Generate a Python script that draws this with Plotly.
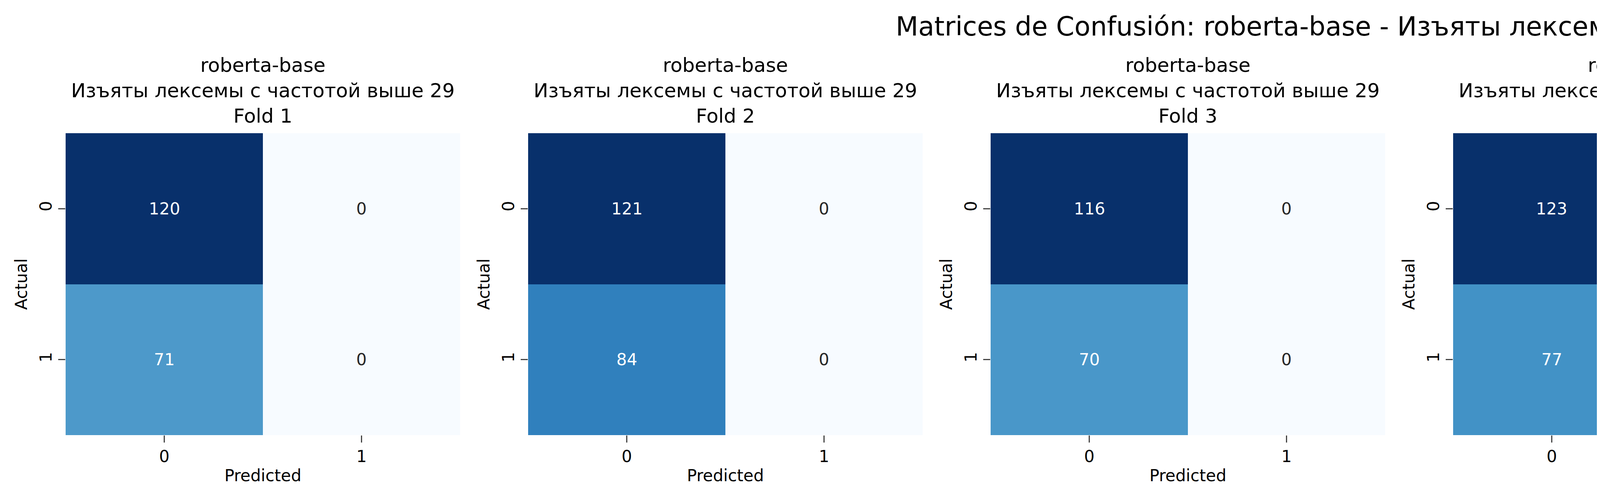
import plotly.graph_objects as go

model = "roberta-base"
subtitle = "Изъяты лексемы с частотой выше 29"
folds = [1, 2, 3, 4, 5, 6]
# матрицы: [[TN, FP], [FN, TP]]
cm_00 = [120, 121, 116, 123, 117, 128]
cm_01 = [0, 0, 0, 0, 0, 0]
cm_10 = [71, 84, 70, 77, 77, 65]
cm_11 = [0, 0, 0, 0, 8, 0]
labels = ["0", "1"]

W, H = 7170, 1275
fig = go.Figure()
step = 1184 / W
x0 = 160 / W
pw = 1010 / W
ybot, ytop = 1 - 1106 / H, 1 - 333 / H

for i, f in enumerate(folds):
    z = [[cm_00[i], cm_01[i]], [cm_10[i], cm_11[i]]]
    zmax = max(max(r) for r in z)
    n = "" if i == 0 else str(i + 1)
    fig.add_trace(go.Heatmap(
        z=z, x=labels, y=labels, colorscale="Blues", zmin=0, zmax=zmax,
        showscale=False, xaxis="x" + n, yaxis="y" + n,
    ))
    d0 = x0 + i * step
    fig.layout["xaxis" + n] = dict(
        domain=[d0, min(d0 + pw, 1)], anchor="y" + n, type="category",
        ticks="outside", ticklen=18, tickwidth=3, showgrid=False,
        tickfont=dict(size=42), title=dict(text="Predicted", font=dict(size=42), standoff=10),
    )
    fig.layout["yaxis" + n] = dict(
        domain=[ybot, ytop], anchor="x" + n, type="category", autorange="reversed",
        ticks="outside", ticklen=18, tickwidth=3, showgrid=False, tickangle=-90,
        tickfont=dict(size=42), title=dict(text="Actual", font=dict(size=42), standoff=10),
    )
    for r in range(2):
        for c in range(2):
            v = z[r][c]
            fig.add_annotation(
                x=labels[c], y=labels[r], xref="x" + n, yref="y" + n, text=str(v),
                showarrow=False,
                font=dict(size=42, color="white" if v > zmax / 2 else "#262626"),
            )
    fig.add_annotation(
        x=d0 + pw / 2, y=ytop + 0.01, xref="paper", yref="paper",
        xanchor="center", yanchor="bottom", showarrow=False,
        text=f"{model}<br>{subtitle}<br>Fold {f}", font=dict(size=50),
    )

fig.update_layout(
    width=W, height=H, paper_bgcolor="white", plot_bgcolor="white",
    font=dict(family="DejaVu Sans", color="black"),
    margin=dict(l=0, r=0, t=0, b=0),
    title=dict(text=f"Matrices de Confusión: {model} - {subtitle}", x=0.5, xanchor="center",
               y=1 - 60 / H, yanchor="middle", font=dict(size=67)),
)
fig.write_html("out.html")
